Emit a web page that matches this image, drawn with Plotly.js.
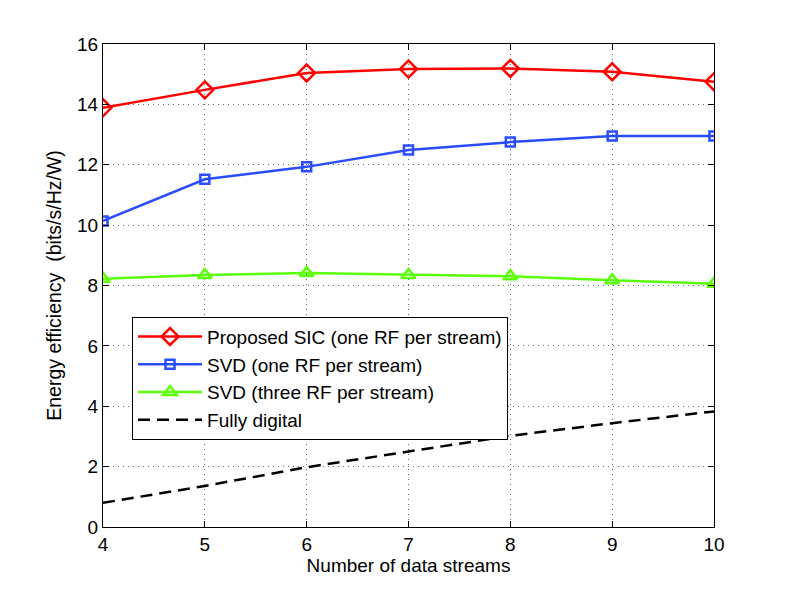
<!DOCTYPE html>
<html>
<head>
<meta charset="utf-8">
<script src="https://cdn.plot.ly/plotly-3.0.1.min.js"></script>
<style>html,body{margin:0;padding:0;background:#fff;}#chart{width:789px;height:594px;}</style>
</head>
<body>
<div id="chart"></div>
<script>
var streams = [4, 5, 6, 7, 8, 9, 10];
var proposedSIC = [13.89, 14.48, 15.04, 15.17, 15.19, 15.08, 14.75];
var svdOneRF = [10.14, 11.52, 11.93, 12.49, 12.75, 12.95, 12.95];
var svdThreeRF = [8.22, 8.35, 8.41, 8.35, 8.31, 8.17, 8.06];
var fullyDigital = [0.80, 1.36, 1.98, 2.50, 3.02, 3.44, 3.83];

var seriesNames = ['Proposed SIC (one RF per stream)', 'SVD (one RF per stream)', 'SVD (three RF per stream)', 'Fully digital'];
var yTicks = [0, 2, 4, 6, 8, 10, 12, 14, 16];
var xTicks = [4, 5, 6, 7, 8, 9, 10];

var FONT = 'Liberation Sans, Arial, Helvetica, sans-serif';

var traces = [
  {x: streams, y: proposedSIC, name: seriesNames[0], mode: 'lines+markers', legendgroup: 'a',
   line: {color: '#ff0000', width: 2.5},
   marker: {symbol: 'diamond-open', size: 13, color: '#ff0000', line: {width: 2.5, color: '#ff0000'}}},
  {x: streams, y: svdOneRF, name: seriesNames[1], mode: 'lines+markers', legendgroup: 'b',
   line: {color: '#2a4cff', width: 2.5},
   marker: {symbol: 'square-open', size: 9, color: '#2a4cff', line: {width: 2.5, color: '#2a4cff'}}},
  {x: streams, y: svdThreeRF, name: seriesNames[2], mode: 'lines+markers', legendgroup: 'c',
   line: {color: '#5cff0a', width: 2.5},
   marker: {symbol: 'triangle-up-open', size: 12, color: '#5cff0a', line: {width: 2.5, color: '#5cff0a'}}},
  {x: streams, y: fullyDigital, name: seriesNames[3], mode: 'lines', legendgroup: 'd',
   line: {color: '#000000', width: 2.5, dash: '12px,7px'}}
];

var layout = {
  width: 789, height: 594,
  margin: {l: 103, r: 75, t: 44, b: 67},
  paper_bgcolor: '#ffffff', plot_bgcolor: '#ffffff',
  font: {family: FONT, size: 19, color: '#000'},
  showlegend: true,
  legend: {x: 0.0475, y: 0.4354, xanchor: 'left', yanchor: 'top',
           bgcolor: '#ffffff', bordercolor: '#000', borderwidth: 1,
           font: {family: FONT, size: 19, color: '#000'}, tracegroupgap: 0, itemwidth: 64},
  xaxis: {range: [4, 10], tickvals: xTicks, ticktext: xTicks.map(String),
          showline: true, linecolor: '#000', linewidth: 1, mirror: 'ticks',
          ticks: 'inside', ticklen: 6, tickcolor: '#000',
          showgrid: true, gridcolor: '#666', griddash: '1px,4px', gridwidth: 1,
          zeroline: false, tickfont: {size: 19},
          title: {text: 'Number of data streams', font: {size: 19}, standoff: 4}},
  yaxis: {range: [0, 16], tickvals: yTicks, ticktext: yTicks.map(String),
          showline: true, linecolor: '#000', linewidth: 1, mirror: 'ticks',
          ticks: 'inside', ticklen: 6, tickcolor: '#000',
          showgrid: true, gridcolor: '#666', griddash: '1px,4px', gridwidth: 1,
          zeroline: false, tickfont: {size: 19},
          title: {text: 'Energy efficiency\u00a0 (bits/s/Hz/W)', font: {size: 19.5}, standoff: 10}}
};

Plotly.newPlot('chart', traces, layout, {displayModeBar: false, staticPlot: true});
</script>
</body>
</html>
